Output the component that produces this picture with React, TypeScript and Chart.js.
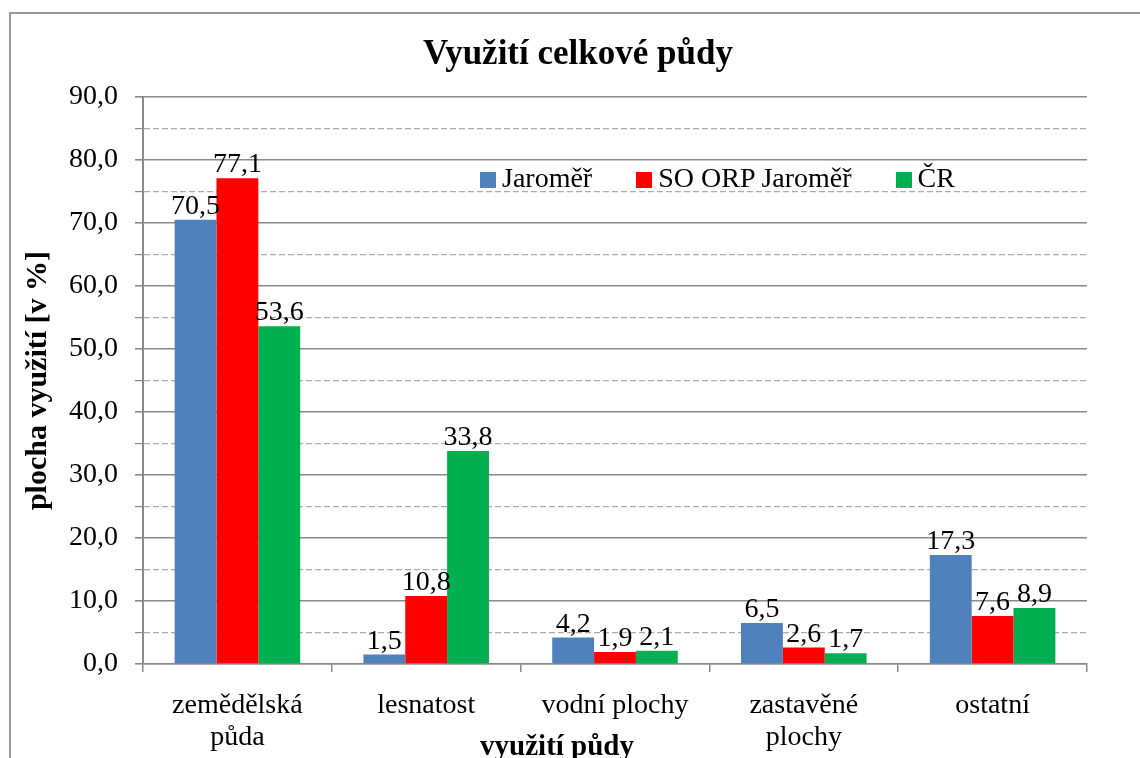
import React, { useEffect, useRef } from 'react';
import { Chart, registerables } from 'chart.js';

Chart.register(...registerables);

// ---- data ----
const categories: (string | string[])[] = [
  ['zemědělská', 'půda'],
  'lesnatost',
  'vodní plochy',
  ['zastavěné', 'plochy'],
  'ostatní',
];
const seriesNames = ['Jaroměř', 'SO ORP Jaroměř', 'ČR'];
const jaromerValues = [70.5, 1.5, 4.2, 6.5, 17.3];
const soOrpValues = [77.1, 10.8, 1.9, 2.6, 7.6];
const crValues = [53.6, 33.8, 2.1, 1.7, 8.9];
const seriesColors = ['#4F81BD', '#FF0000', '#00B050'];
const yMin = 0;
const yMax = 90;
const yStep = 5;
const yLabelStep = 10;
const chartTitle = 'Využití celkové půdy';
const yTitle = 'plocha využití [v %]';
const xTitle = 'využití půdy';

const FONT = "'Times New Roman', 'Liberation Serif', serif";
const fmt = (v: number) => v.toFixed(1).replace('.', ',');

const valueLabels = {
  id: 'valueLabels',
  afterDatasetsDraw(chart: any) {
    const ctx = chart.ctx;
    ctx.save();
    ctx.font = `28px ${FONT}`;
    ctx.fillStyle = '#000';
    ctx.textAlign = 'center';
    ctx.textBaseline = 'alphabetic';
    chart.data.datasets.forEach((ds: any, i: number) => {
      const meta = chart.getDatasetMeta(i);
      meta.data.forEach((el: any, j: number) => {
        ctx.fillText(fmt(ds.data[j]), el.x, el.y - 6);
      });
    });
    ctx.restore();
  },
};

const xAxisTitle = {
  id: 'xAxisTitle',
  afterDraw(chart: any) {
    const { ctx, chartArea } = chart;
    const xs = chart.scales.x;
    ctx.save();
    ctx.font = `bold 29px ${FONT}`;
    ctx.fillStyle = '#000';
    ctx.textAlign = 'center';
    ctx.textBaseline = 'alphabetic';
    const cx = chartArea.left + (chartArea.right - chartArea.left) * 0.4386;
    ctx.fillText(xTitle, cx, xs.bottom - 19);
    ctx.restore();
  },
};

export default function App() {
  const canvasRef = useRef<HTMLCanvasElement | null>(null);

  useEffect(() => {
    document.documentElement.style.overflow = 'hidden';
    document.body.style.overflow = 'hidden';
    const canvas = canvasRef.current;
    if (!canvas) return;
    const majorColor = '#8a8a8a';
    const minorColor = '#ababab';
    const isMajor = (ctx: any) => ctx && ctx.tick && Math.abs(ctx.tick.value % yLabelStep) < 1e-6;

    const chart = new Chart(canvas, {
      type: 'bar',
      data: {
        labels: categories as any,
        datasets: [
          { label: seriesNames[0], data: jaromerValues, backgroundColor: seriesColors[0] },
          { label: seriesNames[1], data: soOrpValues, backgroundColor: seriesColors[1] },
          { label: seriesNames[2], data: crValues, backgroundColor: seriesColors[2] },
        ],
      },
      options: {
        responsive: false,
        animation: false,
        devicePixelRatio: 1,
        datasets: {
          bar: { barPercentage: 1, categoryPercentage: 0.665, borderWidth: 0 },
        },
        layout: { padding: 0 },
        plugins: {
          legend: { display: false },
          tooltip: { enabled: false },
          title: {
            display: true,
            text: chartTitle,
            color: '#000',
            font: { family: FONT, size: 35, weight: 'bold', lineHeight: 1.2 },
            padding: { top: 20, bottom: 21 },
          },
        },
        scales: {
          x: {
            grid: {
              display: true,
              drawOnChartArea: false,
              drawTicks: true,
              offset: true,
              tickLength: 8,
              color: majorColor,
              lineWidth: 1.5,
            },
            border: { display: true, color: majorColor, width: 1.5 },
            ticks: {
              color: '#000',
              font: { family: FONT, size: 28, lineHeight: 1.17 },
              padding: 17,
              autoSkip: false,
              maxRotation: 0,
              minRotation: 0,
            },
            afterFit: (scale: any) => {
              scale.height = 110;
            },
          },
          y: {
            min: yMin,
            max: yMax,
            ticks: {
              stepSize: yStep,
              autoSkip: false,
              color: '#000',
              font: { family: FONT, size: 28 },
              padding: 17,
              callback: (v: any) => (Math.abs(Number(v) % yLabelStep) < 1e-6 ? fmt(Number(v)) : ''),
            },
            grid: {
              drawTicks: true,
              tickLength: 8,
              color: (ctx: any) => (isMajor(ctx) ? majorColor : minorColor),
              tickColor: majorColor,
              lineWidth: (ctx: any) => (isMajor(ctx) ? 1.6 : 1.2),
            },
            border: {
              display: true,
              color: majorColor,
              width: 2,
              dash: (ctx: any) => (ctx && ctx.tick && !isMajor(ctx) ? [6, 3] : []),
            },
            title: {
              display: true,
              text: yTitle,
              color: '#000',
              font: { family: FONT, size: 30, weight: 'bold', lineHeight: 1.2 },
              padding: { top: 9, bottom: 0 },
            },
            afterFit: (scale: any) => {
              scale.width = 132;
            },
          },
          // empty spacer on the right so the plot ends where the reference's does
          spacer: {
            type: 'linear',
            position: 'right',
            display: true,
            grid: { display: false },
            ticks: { display: false },
            border: { display: false },
            afterFit: (scale: any) => {
              scale.width = 58;
            },
          },
        },
      },
      plugins: [valueLabels, xAxisTitle],
    } as any);
    return () => chart.destroy();
  }, []);

  return (
    <div style={{ position: 'absolute', left: 0, top: 0, width: 1140, height: 758, overflow: 'hidden' }}>
      <div
        style={{
          position: 'absolute',
          left: 9,
          top: 12,
          width: 1134,
          height: 760,
          border: '2px solid #999999',
          background: '#fff',
        }}
      >
        <canvas ref={canvasRef} width={1134} height={760} style={{ display: 'block' }} />
        <div
          style={{
            position: 'absolute',
            left: 469,
            top: 148,
            display: 'flex',
            alignItems: 'center',
            fontFamily: FONT,
            fontSize: 28,
            lineHeight: '32px',
            color: '#000',
            whiteSpace: 'nowrap',
          }}
        >
          {seriesNames.map((name, i) => (
            <div
              key={name}
              style={{ display: 'flex', alignItems: 'center', marginRight: i < seriesNames.length - 1 ? 44 : 0 }}
            >
              <span
                style={{
                  display: 'inline-block',
                  width: 16,
                  height: 16,
                  background: seriesColors[i],
                  marginRight: 6,
                  marginTop: 3,
                }}
              />
              <span>{name}</span>
            </div>
          ))}
        </div>
      </div>
    </div>
  );
}
